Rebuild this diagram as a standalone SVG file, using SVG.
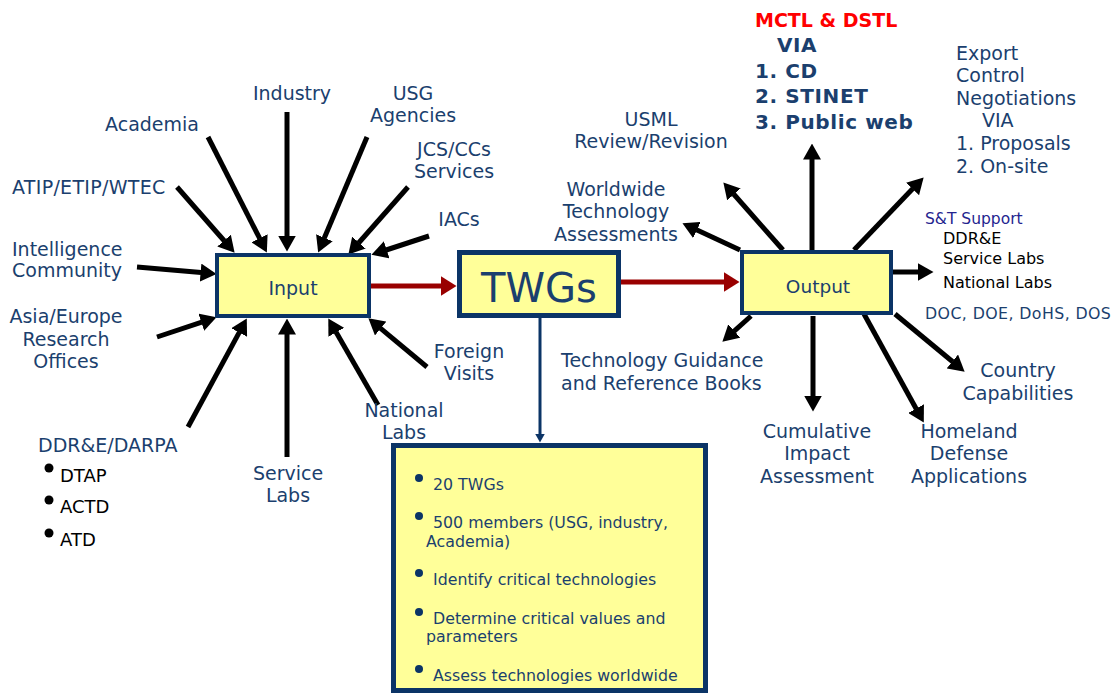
<svg xmlns="http://www.w3.org/2000/svg" width="1113" height="694" viewBox="0 0 1113 694">
<style>
.lbl{font-family:"DejaVu Sans","Liberation Sans",sans-serif;font-size:19px;fill:#1b3f6e}
.c{text-anchor:middle}
.sm{font-family:"DejaVu Sans","Liberation Sans",sans-serif;font-size:15.8px;fill:#1b3f6e}
.blk{font-family:"DejaVu Sans","Liberation Sans",sans-serif;font-size:16px;fill:#000}
.bold{font-family:"DejaVu Sans","Liberation Sans",sans-serif;font-size:20px;font-weight:bold;fill:#1b3f6e;letter-spacing:0.6px}
.box{fill:#ffff99;stroke:#0b3466}
.arr{stroke:#000;stroke-width:5;fill:none;marker-end:url(#ah)}
.red{stroke:#990000;stroke-width:5;fill:none;marker-end:url(#rh)}
</style>
<defs>
<marker id="ah" markerUnits="userSpaceOnUse" viewBox="0 0 16 18" refX="0.5" refY="9" markerWidth="16" markerHeight="18" orient="auto"><path d="M0,0 L16,9 L0,18 z" fill="#000"/></marker>
<marker id="rh" markerUnits="userSpaceOnUse" viewBox="0 0 16 20" refX="0.5" refY="10" markerWidth="16" markerHeight="20" orient="auto"><path d="M0,0 L16,10 L0,20 z" fill="#990000"/></marker>
<marker id="nh" markerUnits="userSpaceOnUse" viewBox="0 0 9 10" refX="0.5" refY="5" markerWidth="9" markerHeight="10" orient="auto"><path d="M0,0 L9,5 L0,10 z" fill="#0b3466"/></marker>
</defs>

<g id="connectors">
<line class="arr" x1="208" y1="137" x2="259.8" y2="238.7"/>
<line class="arr" x1="287" y1="112" x2="287" y2="236"/>
<line class="arr" x1="367" y1="137" x2="324.2" y2="238.3"/>
<line class="arr" x1="177" y1="187" x2="224.4" y2="241"/>
<line class="arr" x1="137" y1="267" x2="201.1" y2="272.6"/>
<line class="arr" x1="408" y1="187" x2="358.6" y2="243"/>
<line class="arr" x1="429" y1="236" x2="386.2" y2="250"/>
<line class="arr" x1="157" y1="337" x2="201.8" y2="322.1"/>
<line class="arr" x1="188" y1="427" x2="239.4" y2="332.1"/>
<line class="arr" x1="287" y1="457" x2="287" y2="334"/>
<line class="arr" x1="378" y1="405" x2="336" y2="331.9"/>
<line class="arr" x1="427" y1="367" x2="380.3" y2="328.2"/>
<line class="arr" x1="812" y1="250" x2="812" y2="159"/>
<line class="arr" x1="783" y1="250" x2="733.6" y2="194"/>
<line class="arr" x1="740" y1="250" x2="696.5" y2="229.8"/>
<line class="arr" x1="854" y1="250" x2="912.9" y2="188.6"/>
<line class="arr" x1="893" y1="272" x2="918" y2="272"/>
<line class="arr" x1="751" y1="316" x2="733.9" y2="331.3"/>
<line class="arr" x1="813" y1="316" x2="813" y2="396"/>
<line class="arr" x1="864" y1="314" x2="916.3" y2="409"/>
<line class="arr" x1="895" y1="314" x2="952.7" y2="361.8"/>
<line class="red" x1="371" y1="286" x2="441" y2="286"/>
<line class="red" x1="621" y1="282" x2="724" y2="282"/>
<line x1="540" y1="318" x2="540" y2="434" stroke="#0b3466" stroke-width="3" marker-end="url(#nh)"/>
</g>

<g id="input">
<rect class="box" x="217" y="255" width="152" height="61" stroke-width="4"/>
<text class="lbl c" x="293" y="295">Input</text>
</g>
<g id="twgs">
<rect class="box" x="459.5" y="252.5" width="159" height="63" stroke-width="5"/>
<text class="lbl c" x="539" y="302" style="font-size:40px">TWGs</text>
</g>
<g id="output">
<rect class="box" x="742" y="252" width="149" height="61" stroke-width="4"/>
<text class="lbl c" x="818" y="293" style="font-size:18.5px">Output</text>
</g>
<g id="twg-details">
<rect class="box" x="393.5" y="445.5" width="312" height="245" stroke-width="5"/>
<g fill="#0b3466">
<circle cx="419" cy="478" r="4"/>
<circle cx="419" cy="516" r="4"/>
<circle cx="419" cy="573" r="4"/>
<circle cx="419" cy="612" r="4"/>
<circle cx="419" cy="669" r="4"/>
</g>
<text class="sm" x="433" y="490">20 TWGs</text>
<text class="sm" x="433" y="528">500 members (USG, industry,</text>
<text class="sm" x="426" y="547">Academia)</text>
<text class="sm" x="433" y="585">Identify critical technologies</text>
<text class="sm" x="433" y="624">Determine critical values and</text>
<text class="sm" x="426" y="642">parameters</text>
<text class="sm" x="433" y="681">Assess technologies worldwide</text>
</g>

<g id="industry"><text class="lbl c" x="292" y="100">Industry</text></g>
<g id="academia"><text class="lbl c" x="152" y="131">Academia</text></g>
<g id="usg"><text class="lbl c" x="413" y="100">USG</text><text class="lbl c" x="413" y="122">Agencies</text></g>
<g id="jcs"><text class="lbl c" x="454" y="156">JCS/CCs</text><text class="lbl c" x="454" y="178">Services</text></g>
<g id="atip"><text class="lbl" x="12" y="194" style="letter-spacing:0.3px">ATIP/ETIP/WTEC</text></g>
<g id="iacs"><text class="lbl c" x="459" y="226">IACs</text></g>
<g id="intel"><text class="lbl" x="12" y="256">Intelligence</text><text class="lbl" x="12" y="277">Community</text></g>
<g id="asia"><text class="lbl c" x="66" y="323">Asia/Europe</text><text class="lbl c" x="66" y="346">Research</text><text class="lbl c" x="66" y="368">Offices</text></g>
<g id="darpa">
<text class="lbl" x="38" y="452">DDR&amp;E/DARPA</text>
<circle cx="49" cy="468" r="4.5" fill="#000"/>
<circle cx="49" cy="500" r="4.5" fill="#000"/>
<circle cx="49" cy="533" r="4.5" fill="#000"/>
<text class="blk" x="60" y="482" style="font-size:18px">DTAP</text>
<text class="blk" x="60" y="513" style="font-size:18px">ACTD</text>
<text class="blk" x="60" y="546" style="font-size:18px">ATD</text>
</g>
<g id="service-labs"><text class="lbl c" x="288" y="480">Service</text><text class="lbl c" x="288" y="502">Labs</text></g>
<g id="national-labs"><text class="lbl c" x="404" y="417">National</text><text class="lbl c" x="404" y="439">Labs</text></g>
<g id="foreign"><text class="lbl c" x="469" y="358">Foreign</text><text class="lbl c" x="469" y="380">Visits</text></g>

<g id="mctl">
<text class="bold" x="755" y="27" style="fill:#ff0000;font-size:19px;letter-spacing:0">MCTL &amp; DSTL</text>
<text class="bold" x="777" y="52">VIA</text>
<text class="bold" x="755" y="78">1. CD</text>
<text class="bold" x="755" y="103">2. STINET</text>
<text class="bold" x="755" y="129">3. Public web</text>
</g>
<g id="usml"><text class="lbl c" x="651" y="126">USML</text><text class="lbl c" x="651" y="148">Review/Revision</text></g>
<g id="export">
<text class="lbl" x="956" y="60">Export</text>
<text class="lbl" x="956" y="82">Control</text>
<text class="lbl" x="956" y="105">Negotiations</text>
<text class="lbl" x="982" y="127">VIA</text>
<text class="lbl" x="956" y="150">1. Proposals</text>
<text class="lbl" x="956" y="173">2. On-site</text>
</g>
<g id="worldwide"><text class="lbl c" x="616" y="196">Worldwide</text><text class="lbl c" x="616" y="218">Technology</text><text class="lbl c" x="616" y="241">Assessments</text></g>
<g id="st-support">
<text class="sm" x="925" y="224" style="fill:#24248f;font-size:15.5px">S&amp;T Support</text>
<text class="blk" x="943" y="244">DDR&amp;E</text>
<text class="blk" x="943" y="264">Service Labs</text>
<text class="blk" x="943" y="288">National Labs</text>
<text class="sm" x="925" y="319" style="letter-spacing:0.4px">DOC, DOE, DoHS, DOS</text>
</g>
<g id="guidance"><text class="lbl" x="561" y="367">Technology Guidance</text><text class="lbl" x="561" y="390">and Reference Books</text></g>
<g id="cumulative"><text class="lbl c" x="817" y="438">Cumulative</text><text class="lbl c" x="817" y="460">Impact</text><text class="lbl c" x="817" y="483">Assessment</text></g>
<g id="homeland"><text class="lbl c" x="969" y="438">Homeland</text><text class="lbl c" x="969" y="460">Defense</text><text class="lbl c" x="969" y="483">Applications</text></g>
<g id="country"><text class="lbl c" x="1018" y="377">Country</text><text class="lbl c" x="1018" y="400">Capabilities</text></g>
</svg>
